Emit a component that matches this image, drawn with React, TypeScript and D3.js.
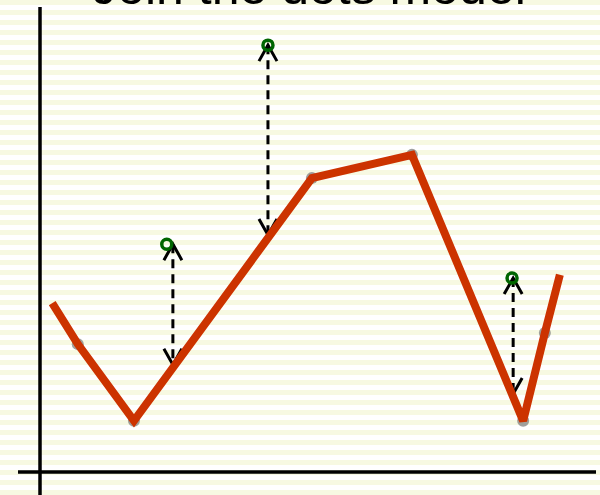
import { scaleLinear, line } from "d3";

// observed points (data units, 0..100 on both axes)
const dotX = [6.8, 16.9, 48.9, 66.9, 86.9, 90.8];
const dotY = [27.5, 11.0, 63.2, 68.2, 11.0, 29.9];
// the joined line runs a little past the first and last dots
const lineStart = [2.2, 36.3];
const lineEnd = [93.5, 42.4];

// held-out points with residual arrows
const testX = [22.8, 41.0, 84.9];
const testY = [49.0, 91.8, 41.7];
const arrowX = [23.9, 41.0, 85.1];

const title = "Join the dots model";

const W = 600;
const H = 495;

function App() {
  const x = scaleLinear().domain([0, 100]).range([40, 596]);
  const y = scaleLinear().domain([0, 100]).range([472, 7]);

  const pts: [number, number][] = dotX.map((d, i) => [d, dotY[i]]);
  const linePts: [number, number][] = [
    [lineStart[0], lineStart[1]],
    ...pts,
    [lineEnd[0], lineEnd[1]]
  ];

  // linear interpolation along the joined line
  const joinAt = (v: number) => {
    let i = 0;
    while (i < linePts.length - 2 && v > linePts[i + 1][0]) i++;
    const [x0, y0] = linePts[i];
    const [x1, y1] = linePts[i + 1];
    return y0 + ((v - x0) * (y1 - y0)) / (x1 - x0);
  };

  const path = line<[number, number]>()
    .x((d) => x(d[0]))
    .y((d) => y(d[1]));

  return (
    <svg
      width={W}
      height={H}
      style={{ position: "absolute", left: 0, top: 0, display: "block" }}
    >
      <defs>
        <pattern id="stripes" width={10} height={10} patternUnits="userSpaceOnUse">
          <rect width={10} height={10} fill="#ffffff" />
          <rect y={0} width={10} height={5} fill="#f7f9e2" />
        </pattern>
      </defs>
      <rect width={W} height={H} fill="url(#stripes)" />

      <text
        x={309}
        y={4}
        textAnchor="middle"
        fontFamily="Liberation Sans, Arial, sans-serif"
        fontSize={50}
        fill="#000"
      >
        {title}
      </text>

      {/* axes */}
      <line x1={x(0)} x2={x(0)} y1={7} y2={H} stroke="#000" strokeWidth={3.5} />
      <line x1={18} x2={596} y1={y(0)} y2={y(0)} stroke="#000" strokeWidth={3.5} />

      {/* residual arrows */}
      {testX.map((tx, i) => {
        const ax = x(arrowX[i]);
        const top = y(testY[i]);
        const bot = y(joinAt(arrowX[i])) - 3;
        const hw = 9;
        const hl = 16;
        return (
          <g key={`arrow-${i}`} stroke="#000" strokeWidth={3} fill="none">
            <line x1={ax} x2={ax} y1={top} y2={bot} strokeDasharray="9,6" />
            <path d={`M${ax - hw},${top + hl}L${ax},${top}L${ax + hw},${top + hl}`} />
            <path d={`M${ax - hw},${bot - hl}L${ax},${bot}L${ax + hw},${bot - hl}`} />
          </g>
        );
      })}

      {/* observed dots beneath the line */}
      {pts.map(([px, py], i) => (
        <circle key={`dot-${i}`} cx={x(px)} cy={y(py)} r={6} fill="#888" opacity={0.8} />
      ))}

      <path
        d={path(linePts) ?? ""}
        fill="none"
        stroke="#cc3300"
        strokeWidth={8}
        strokeLinejoin="miter"
        strokeMiterlimit={2}
      />

      {/* held-out points */}
      {testX.map((tx, i) => (
        <circle
          key={`test-${i}`}
          cx={x(tx)}
          cy={y(testY[i])}
          r={5}
          fill="none"
          stroke="#006600"
          strokeWidth={3.5}
        />
      ))}
    </svg>
  );
}

export default App;
